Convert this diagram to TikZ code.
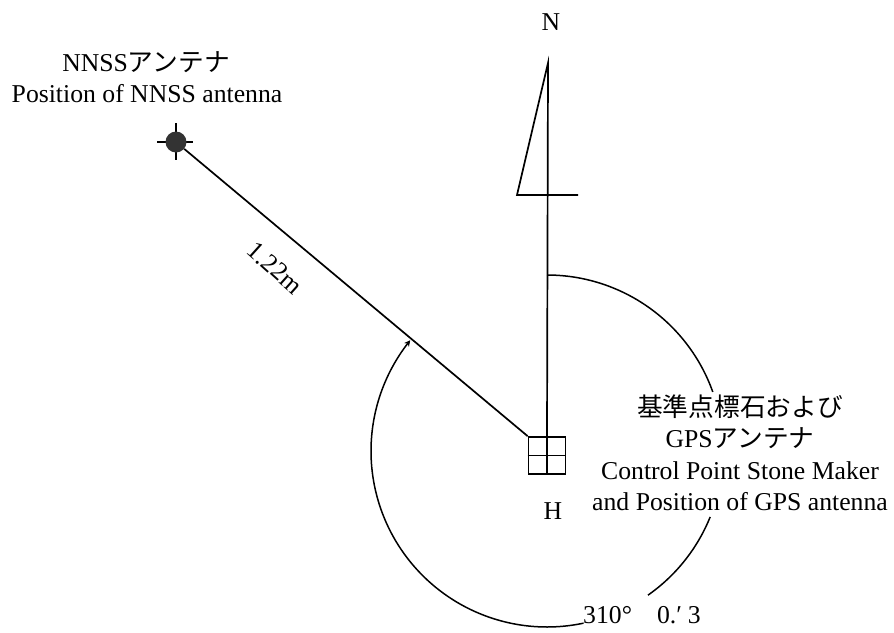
\documentclass[tikz,border=0pt]{standalone}
\usepackage{fontspec}
\usetikzlibrary{arrows.meta}
\setmainfont{Liberation Serif}
\newfontfamily\cjk{Noto Sans CJK JP}
\tikzset{lbl/.style={font=\fontsize{25.7}{31.5}\selectfont,inner sep=0pt,align=center},
ln/.style={line width=1.7pt,black},
arcline/.style={line width=1.5pt,black}}
\begin{document}
\begin{tikzpicture}[x=1pt,y=-1pt]
\useasboundingbox (0,0) rectangle (894,632);
\node[lbl] (n) at (551,22) {N};
\node[lbl] (h) at (553,511) {H};
\node[lbl] (t1) at (146,62) {NNSS{\cjk アンテナ}};
\node[lbl] (t2) at (147,94) {Position of NNSS antenna};
\node[lbl,rotate=-42] (d) at (275,268) {1.22m};
\node[lbl] (t3) at (740,453) {{\cjk 基準点標石および}\\GPS{\cjk アンテナ}\\Control Point Stone Maker\\and Position of GPS antenna};
\node[lbl,anchor=base west] (ang) at (583,623) {310°\hspace{25pt}0.′\hspace{6pt}3};
\node[draw,ln,minimum size=37pt,inner sep=0pt] (box) at (547,455.5) {};
\draw[ln] (box.west) -- (box.east);
\draw[ln] (box.north) -- (box.south);
\coordinate (tip) at (548,63);
\coordinate (bl) at (517,195);
\coordinate (br) at (578,195);
\draw[ln,line join=miter] (box.north) -- (tip) -- (bl) -- (br);
\draw[line width=1.5pt] (176,123) -- (176,160) (157,142) -- (193,142);
\node[circle,fill=black!80,minimum size=21pt,inner sep=0pt] (ant) at (176,142) {};
\draw[ln] (ant) -- (box.north west);
\draw[arcline] plot[domain=90:19.6,samples=40,smooth] ({547+176*cos(\x)},{451-176*sin(\x)});
\draw[arcline] plot[domain=-22:-55,samples=20,smooth] ({547+176*cos(\x)},{451-176*sin(\x)});
\draw[arcline,-{Stealth[length=6pt,width=6pt]}] plot[domain=-78:-219,samples=60,smooth] ({547+176*cos(\x)},{451-176*sin(\x)});
\end{tikzpicture}
\end{document}
